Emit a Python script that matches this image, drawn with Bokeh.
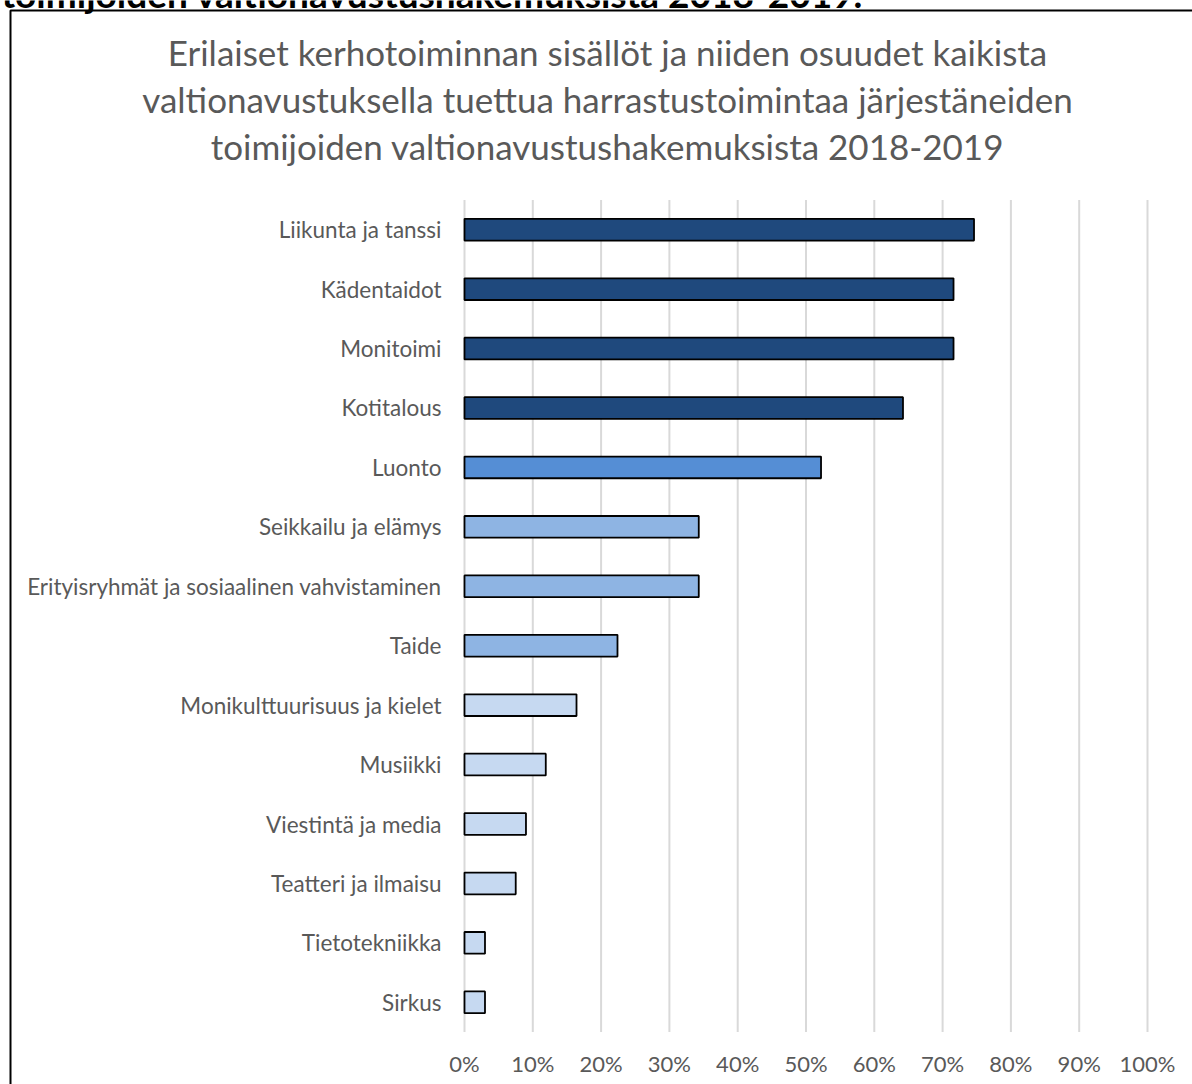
from bokeh.plotting import figure
from bokeh.models import Range1d
from bokeh.core.properties import value
from bokeh.embed import file_html
from bokeh.resources import INLINE

categories = [
    "Liikunta ja tanssi", "Kädentaidot", "Monitoimi", "Kotitalous", "Luonto",
    "Seikkailu ja elämys", "Erityisryhmät ja sosiaalinen vahvistaminen", "Taide",
    "Monikulttuurisuus ja kielet", "Musiikki", "Viestintä ja media",
    "Teatteri ja ilmaisu", "Tietotekniikka", "Sirkus",
]
shares = [74.6, 71.6, 71.6, 64.2, 52.2, 34.3, 34.3, 22.4, 16.4, 11.9, 9.0, 7.5, 3.0, 3.0]
bar_colors = ["#1F497D"] * 4 + ["#558ED5"] + ["#8EB4E3"] * 3 + ["#C6D9F1"] * 6
tick_values = list(range(0, 101, 10))
tick_labels = [f"{t}%" for t in tick_values]
title_lines = [
    "Erilaiset kerhotoiminnan sisällöt ja niiden osuudet kaikista",
    "valtionavustuksella tuettua harrastustoimintaa järjestäneiden",
    "toimijoiden valtionavustushakemuksista 2018-2019",
]
page_heading = "toimijoiden valtionavustushakemuksista 2018-2019."

# ---- layout (pixels) ----
W, H = 1192, 1084
X0_PX = 464.0        # pixel position of 0 %
PX_PER_PCT = 6.83    # pixels per percentage point
ROW0_PX = 229.2      # pixel centre of the first category row
ROW_PX = 59.43       # pixels per category row
FONT = value("Lato")
GREY = "#595959"

def xd(px):
    return (px - X0_PX) / PX_PER_PCT

def yd(py):
    return (py - ROW0_PX) / ROW_PX

rows = list(range(len(categories)))

p = figure(
    width=W, height=H,
    x_range=Range1d(xd(0), xd(W)),
    y_range=Range1d(yd(H), yd(0)),
    x_axis_location=None, y_axis_location=None,
    output_backend="svg", toolbar_location=None,
    min_border=0,
)
p.title.visible = False
p.grid.visible = False
p.outline_line_color = None
p.background_fill_color = "white"
p.border_fill_color = "white"

# vertical gridlines at the tick values
n = len(categories)
p.segment(x0=tick_values, x1=tick_values, y0=[-0.5] * len(tick_values),
          y1=[n - 0.5] * len(tick_values), line_color="#D9D9D9", line_width=2)

# bars
p.hbar(y=rows, left=0, right=shares, height=0.365,
       fill_color=bar_colors, line_color="black", line_width=1.8)

# category labels (axis)
p.text(x=[xd(441)] * n, y=rows, text=categories, text_align="right",
       text_baseline="middle", text_font=FONT, text_font_size=value("22.5px"),
       text_color=GREY)

# tick labels (axis)
p.text(x=tick_values, y=[yd(1063)] * len(tick_values), text=tick_labels,
       text_align="center", text_baseline="middle", text_font=FONT,
       text_font_size=value("22px"), text_color=GREY)

# chart title
p.text(x=[xd(607)] * 3, y=[yd(51), yd(98), yd(145)], text=title_lines,
       text_align="center", text_baseline="middle", text_font=FONT,
       text_font_size=value("35px"), text_color=GREY)

# clipped page heading above the chart box
p.text(x=[xd(1)], y=[yd(-7)], text=[page_heading], text_align="left",
       text_baseline="middle", text_font=FONT, text_font_size=value("37px"),
       text_font_style="bold", text_color="black")

# chart box border (left and top edges visible)
p.line(x=[xd(10), xd(10), xd(W + 20)], y=[yd(H + 20), yd(10), yd(10)],
       line_color="black", line_width=2)

html = file_html(p, INLINE)
open("out.html", "w").write(html)
